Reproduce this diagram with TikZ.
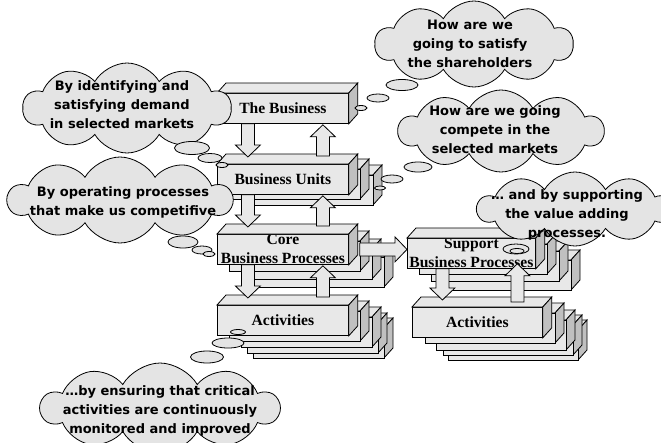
\documentclass[tikz,border=0pt]{standalone}
\usepackage{fontspec}
\setmainfont{Liberation Serif}
\newfontfamily\thoughtfont{DejaVu Sans}
\usepackage{tikz}
\usetikzlibrary{shapes.symbols,calc}

\definecolor{slabgray}{HTML}{E8E8E8}
\definecolor{slabdark}{HTML}{C0C0C0}
\definecolor{cloudgray}{HTML}{E4E4E4}

\tikzset{%
		slab/.style={draw, fill=slabgray, line width=0.8pt, minimum width=131pt, minimum height=30pt,
		  inner sep=0pt, anchor=north west, align=center, font=\fontsize{15.6}{19}\selectfont\bfseries},
		slabtop/.style={draw, fill=slabgray, line width=0.8pt},
		slabside/.style={draw, fill=slabdark, line width=0.8pt},
		blockarrow/.style={draw, fill=slabgray, line width=0.8pt, line join=miter},
		thought/.style={cloud, cloud puffs=10, cloud puff arc=120, cloud ignores aspect,
		  draw, fill=cloudgray, line width=0.8pt, inner sep=0pt},
		thoughttext/.style={align=center, font=\thoughtfont\fontsize{13}{19}\selectfont\bfseries},
		bubble/.style={draw, fill=cloudgray, line width=0.8pt}}

% one slab drawn behind a stack, front face top left at (#1,#2), width #3
\newcommand{\slabfaces}[3]{%
		\filldraw[slabtop] (#1,#2) -- ++(9,-10) -- ++(#3,0) -- ++(-9,10) -- cycle;
		\filldraw[slabside] (#1+#3,#2) -- ++(9,-10) -- ++(0,30) -- ++(-9,10) -- cycle;
		\filldraw[slabtop] (#1,#2) rectangle ++(#3,30);}

% top and side face of a named slab
\newcommand{\slabcap}[1]{%
		\filldraw[slabtop] (#1.north west) -- ++(9,-10) -- ([shift={(9,-10)}]#1.north east) -- (#1.north east) -- cycle;
		\filldraw[slabside] (#1.north east) -- ++(9,-10) -- ([shift={(9,-10)}]#1.south east) -- (#1.south east) -- cycle;}

% outlined block arrow from #1 to #2
\newcommand{\blockarrow}[2]{%
		\coordinate (tail) at (#1);
		\coordinate (tip) at (#2);
		\coordinate (head) at ($(tip)!12pt!(tail)$);
		\filldraw[blockarrow] ($(tail)!6.5pt!90:(tip)$) -- ($(head)!6.5pt!90:(tip)$) -- ($(head)!12.5pt!90:(tip)$)
		  -- (tip) -- ($(head)!12.5pt!-90:(tip)$) -- ($(head)!6.5pt!-90:(tip)$) -- ($(tail)!6.5pt!-90:(tip)$) -- cycle;}

\begin{document}
\begin{tikzpicture}[x=1pt, y=-1pt]
		\useasboundingbox (0,0) rectangle (661,442);

		% business stack
		\node[slab] (biz) at (217,93) {The Business};
		\slabcap{biz}
		\foreach \dx/\dy in {25/11, 12/5} {\slabfaces{217+\dx}{164+\dy}{131}}
		\node[slab] (units) at (217,164) {Business Units};
		\slabcap{units}
		\foreach \dx/\dy in {36/23, 24/15, 12/7} {\slabfaces{217+\dx}{234+\dy}{131}}
		\node[slab] (core) at (217,234) {Core\\Business Processes};
		\slabcap{core}
		\foreach \dx/\dy in {36/23, 30/18, 24/12, 12/6} {\slabfaces{217+\dx}{305+\dy}{131}}
		\node[slab] (acts) at (217,305) {Activities};
		\slabcap{acts}

		% support stack
		\foreach \dx/\dy in {36/22, 24/13, 12/6} {\slabfaces{407+\dx}{238+\dy}{128}}
		\node[slab, minimum width=128pt] (supp) at (407,238) {Support\\Business Processes};
		\slabcap{supp}
		\foreach \dx/\dy in {36/23, 31/18, 24/13, 13/6} {\slabfaces{412+\dx}{307+\dy}{130}}
		\node[slab, minimum width=130pt] (sacts) at (412,307) {Activities};
		\slabcap{sacts}

		% arrows
		\foreach \upper/\lower in {biz/units, units/core, core/acts} {
		  \blockarrow{[xshift=-35pt]\upper.south}{[xshift=-35pt,yshift=7pt]\lower.north}
		  \blockarrow{[xshift=40pt,yshift=8pt]\lower.north}{[xshift=40pt,yshift=-1pt]\upper.south}
		}
		\blockarrow{[xshift=-29pt]supp.south}{[xshift=-35pt,yshift=7pt]sacts.north}
		\blockarrow{[xshift=40pt,yshift=5pt]sacts.north}{[xshift=46pt,yshift=5pt]supp.south}
		\blockarrow{[xshift=11pt]core.east}{supp.west |- core.east}

		% thoughts
		\node[thought, minimum width=198pt, minimum height=86pt] (q1) at (474,44) {};
		\node[thoughttext] (q1t) at (470,44) {How are we\\going to satisfy\\the shareholders};
		\foreach \x/\y/\rx/\ry in {402/85/16/5.5, 378/98/11/4, 361/108/6/2.5}
		  \draw[bubble] (\x,\y) ellipse [x radius=\rx pt, y radius=\ry pt];

		\node[thought, minimum width=205pt, minimum height=82pt] (q2) at (501,131) {};
		\node[thoughttext] (q2t) at (495,130) {How are we going\\compete in the\\selected markets};
		\foreach \x/\y/\rx/\ry in {418/167/14/5, 392/179/11/4, 380/188/5.5/2}
		  \draw[bubble] (\x,\y) ellipse [x radius=\rx pt, y radius=\ry pt];

		\node[thought, minimum width=208pt, minimum height=90pt] (q3) at (127,108) {};
		\node[thoughttext] (q3t) at (122,105) {By identifying and\\satisfying demand\\in selected markets};
		\foreach \x/\y/\rx/\ry in {192/148/17.5/6.5, 210/158/12/4.5, 222/165/6/2.5}
		  \draw[bubble] (\x,\y) ellipse [x radius=\rx pt, y radius=\ry pt];

		\node[thought, minimum width=224pt, minimum height=86pt] (q4) at (120,200) {};
		\node[thoughttext] (q4t) at (123,202) {By operating processes\\that make us competifive};
		\foreach \x/\y/\rx/\ry in {183/242/15/6, 202/250/10/4, 209/254/6/2.5}
		  \draw[bubble] (\x,\y) ellipse [x radius=\rx pt, y radius=\ry pt];

		\node[thought, minimum width=195pt, minimum height=74pt] (q5) at (575,209) {};
		\node[thoughttext] (q5t) at (567,215) {\dots{} and by supporting\\the value adding\\processes.};
		\foreach \x/\y/\rx/\ry in {516/249/13/5, 517/251/7/2.5}
		  \draw[bubble] (\x,\y) ellipse [x radius=\rx pt, y radius=\ry pt];

		\node[thought, minimum width=238pt, minimum height=90pt] (q6) at (160,408) {};
		\node[thoughttext] (q6t) at (160,411) {\dots by ensuring that critical\\activities are continuously\\monitored and improved};
		\foreach \x/\y/\rx/\ry in {238/332/7.5/2.5, 228/343/16/5, 207/357/16.5/6}
		  \draw[bubble] (\x,\y) ellipse [x radius=\rx pt, y radius=\ry pt];
\end{tikzpicture}
\end{document}
